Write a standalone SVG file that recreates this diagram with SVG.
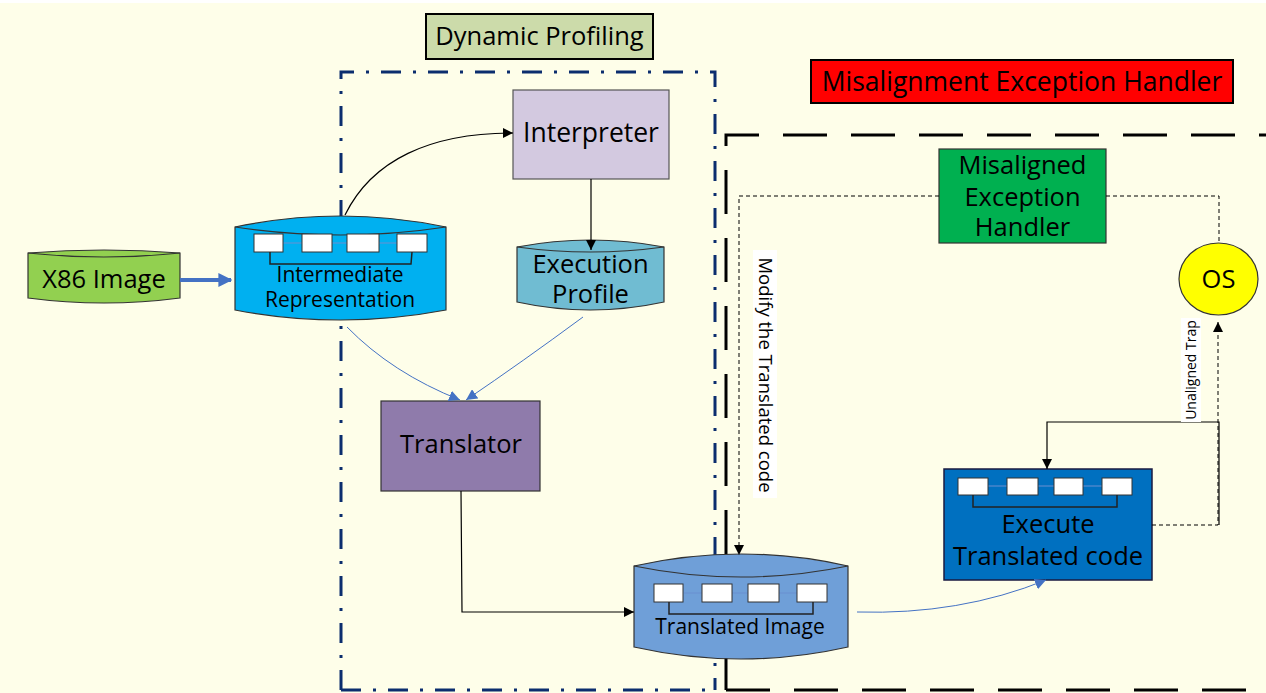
<svg xmlns="http://www.w3.org/2000/svg" width="1266" height="693" viewBox="0 0 1266 693">
<defs>
<marker id="ab" viewBox="0 0 10 10" refX="10" refY="5" markerWidth="10" markerHeight="10" markerUnits="userSpaceOnUse" orient="auto"><path d="M0,0 L10,5 L0,10 Z" fill="#000"/></marker>
<marker id="ablue" viewBox="0 0 10 10" refX="10" refY="5" markerWidth="11" markerHeight="11" markerUnits="userSpaceOnUse" orient="auto"><path d="M0,0 L10,5 L0,10 Z" fill="#4472C4"/></marker>
<marker id="athick" viewBox="0 0 10 10" refX="9" refY="5" markerWidth="14" markerHeight="14" markerUnits="userSpaceOnUse" orient="auto"><path d="M0,0 L10,5 L0,10 Z" fill="#4472C4"/></marker>
</defs>
<style>
text{font-family:"Open Sans","Liberation Sans",sans-serif;fill:#000;text-anchor:middle}
.t22{font-size:25.5px}
.t18{font-size:21px}
.sh{stroke:#333;stroke-width:1.2}
.mini{fill:#fff;stroke:#333;stroke-width:1}
.brk{fill:none;stroke:#222;stroke-width:1.5}
.thin{fill:none;stroke:#6B8FD0;stroke-width:1}
.c{fill:none;stroke:#000;stroke-width:1.2}
.cd{fill:none;stroke:#000;stroke-width:1;stroke-dasharray:4 3}
.cb{fill:none;stroke:#4472C4;stroke-width:1}
.navy{fill:none;stroke:#0B2D6E;stroke-width:3;stroke-dasharray:20 12 3 12}
.blk{fill:none;stroke:#000;stroke-width:3;stroke-dasharray:44 24}
</style>
<rect x="0" y="0" width="1266" height="693" fill="#FEFEE9"/>
<rect x="0" y="0" width="1266" height="3" fill="#FFFFFF"/>

<g id="boundaries">
<path class="navy" d="M341,690 L341,72 L715,72 L715,690"/>
<path class="navy" d="M341,690 L715,690"/>
<path class="blk" d="M726,690 L726,135 L1266,135"/>
<path class="blk" d="M726,690 L1266,690"/>
</g>

<g id="dynamic-profiling-label">
<rect x="426" y="14" width="227" height="45" fill="#CCDBAA" stroke="#000" stroke-width="2"/>
<text class="t22" x="539.5" y="45">Dynamic Profiling</text>
</g>

<g id="misalignment-label">
<rect x="811" y="60" width="422" height="43" fill="#FF0000" stroke="#000" stroke-width="2"/>
<text class="t22" x="1022" y="91" style="font-size:26.5px">Misalignment Exception Handler</text>
</g>

<g id="x86-image">
<path class="sh" fill="#92D050" d="M28,253 Q104,247 180,253 L180,298 Q104,308 28,298 Z"/>
<path class="sh" fill="none" d="M28,253 Q104,261 180,253"/>
<text class="t22" x="104" y="288">X86 Image</text>
</g>

<g id="intermediate-representation">
<path class="sh" fill="#00B0F0" d="M235,227 Q340.5,205 446,227 L446,310 Q340.5,330 235,310 Z"/>
<path class="sh" fill="none" d="M235,227 Q340.5,243 446,227"/>
<path class="thin" d="M283,243 L397,243"/>
<rect class="mini" x="254" y="234" width="29" height="18"/>
<rect class="mini" x="302" y="234" width="30" height="18"/>
<rect class="mini" x="347" y="234" width="32" height="18"/>
<rect class="mini" x="397" y="234" width="30" height="18"/>
<path class="brk" d="M270,252 L270,264 L411,264 L412,252"/>
<text class="t18" x="340" y="282">Intermediate</text>
<text class="t18" x="340" y="307">Representation</text>
</g>

<g id="interpreter">
<rect x="513" y="90" width="156" height="89" fill="#D3C9E0" stroke="#555" stroke-width="1.2"/>
<text class="t22" x="591" y="142" style="font-size:26.5px">Interpreter</text>
</g>

<g id="execution-profile">
<path class="sh" fill="#70BCD2" d="M517,247 Q590.5,233 664,247 L664,302 Q590.5,318 517,302 Z"/>
<path class="sh" fill="none" d="M517,247 Q590.5,257 664,247"/>
<text class="t22" x="590.5" y="273">Execution</text>
<text class="t22" x="590.5" y="303">Profile</text>
</g>

<g id="translator">
<rect x="381" y="401" width="159" height="90" fill="#8F7BAB" stroke="#333" stroke-width="1.2"/>
<text class="t22" x="461" y="453">Translator</text>
</g>

<g id="translated-image">
<path class="sh" fill="#6F9FD8" d="M634,566 Q741,542 848,566 L848,647 Q741,671 634,647 Z"/>
<path class="sh" fill="none" d="M634,566 Q741,588 848,566"/>
<path class="thin" d="M684,593 L797,593"/>
<rect class="mini" x="654" y="584" width="29" height="18"/>
<rect class="mini" x="702" y="584" width="30" height="18"/>
<rect class="mini" x="748" y="584" width="31" height="18"/>
<rect class="mini" x="797" y="584" width="30" height="18"/>
<path class="brk" d="M669,602 L669,614 L813,614 L813,602"/>
<text class="t18" x="740" y="634">Translated Image</text>
</g>

<g id="execute-translated-code">
<rect x="944" y="469" width="208" height="111" fill="#0070C0" stroke="#1a1a40" stroke-width="1.5"/>
<path class="thin" d="M988,486 L1102,486"/>
<rect class="mini" x="958" y="478" width="30" height="17"/>
<rect class="mini" x="1007" y="478" width="31" height="17"/>
<rect class="mini" x="1054" y="478" width="29" height="17"/>
<rect class="mini" x="1102" y="478" width="30" height="17"/>
<path class="brk" d="M973,495 L973,507 L1117,507 L1117,495"/>
<text class="t22" x="1048" y="533">Execute</text>
<text class="t22" x="1048" y="565">Translated code</text>
</g>

<g id="misaligned-exception-handler">
<rect x="939" y="149" width="167" height="94" fill="#00B050" stroke="#333" stroke-width="1.2"/>
<text class="t22" x="1022.5" y="174">Misaligned</text>
<text class="t22" x="1022.5" y="206">Exception</text>
<text class="t22" x="1022.5" y="236">Handler</text>
</g>

<g id="os">
<ellipse cx="1218.5" cy="279" rx="39.5" ry="36" fill="#FFFF00" stroke="#333" stroke-width="1.2"/>
<text class="t22" x="1218.5" y="288">OS</text>
</g>

<g id="connectors">
<path d="M180,280 L231,280" fill="none" stroke="#4472C4" stroke-width="4" marker-end="url(#athick)"/>
<path class="c" d="M345,215 C372,160 430,133 513,133" marker-end="url(#ab)"/>
<path class="c" d="M591,179 L591,250" marker-end="url(#ab)"/>
<path class="cb" d="M347,327 Q392,373 460,400" marker-end="url(#ablue)"/>
<path class="cb" d="M583,317 Q522,362 466,400" marker-end="url(#ablue)"/>
<path class="c" d="M461,491 L462,612 L634,612" marker-end="url(#ab)"/>
<path class="cb" d="M857,612 Q960,615 1046,580" marker-end="url(#ablue)"/>
<path class="cd" d="M939,196 L739,196 L739,555" marker-end="url(#ab)"/>
<path class="cd" d="M1106,196 L1219,196 L1219,243"/>
<path class="cd" d="M1152,525 L1218,525 L1218,322" marker-end="url(#ab)"/>
<path class="c" d="M1219,525 L1219,422 L1047,422 L1047,469" marker-end="url(#ab)"/>
<rect x="1181" y="318" width="20" height="104" fill="#FFFFFF"/>
<text x="1196" y="370" transform="rotate(-90 1196 370)" style="font-size:14px">Unaligned Trap</text>
<rect x="753" y="250" width="24" height="248" fill="#FFFFFF"/>
<text x="759" y="375" transform="rotate(90 759 375)" style="font-size:18.5px">Modify the Translated code</text>
</g>
</svg>
